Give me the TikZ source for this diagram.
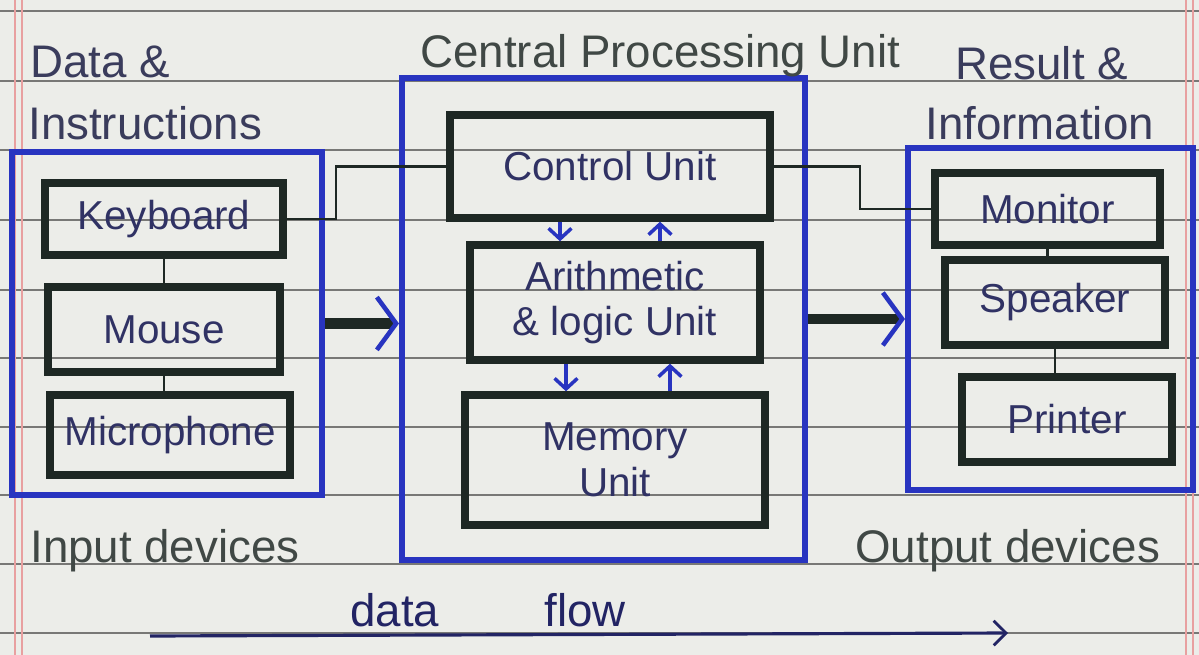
\documentclass[tikz,border=0pt]{standalone}
\usepackage{fontspec}
\setmainfont{Liberation Sans}
\usetikzlibrary{arrows.meta,fit}

\definecolor{paper}{RGB}{236,237,233}
\definecolor{rule}{RGB}{120,120,118}
\definecolor{margin}{RGB}{232,160,160}
\definecolor{penblue}{RGB}{40,52,192}
\definecolor{ink}{RGB}{30,40,36}
\definecolor{pencil}{RGB}{58,60,92}
\definecolor{boxtext}{RGB}{48,50,100}
\definecolor{flowink}{RGB}{34,36,100}

\begin{document}
\begin{tikzpicture}[
  x=0.02cm, y=-0.02cm,
  paperrule/.style={draw=rule, line width=0.6pt},
  marginrule/.style={draw=margin, line width=1pt},
  group/.style={draw=penblue, line width=3.4pt, inner sep=0pt},
  unit/.style={draw=ink, line width=4.2pt, inner sep=0pt},
  unitlabel/.style={text=boxtext, align=center, inner sep=0pt,
    font=\fontsize{23}{26}\selectfont},
  wire/.style={draw=ink, line width=1.3pt},
  smallarrow/.style={draw=penblue, line width=2pt,
    -{Straight Barb[length=6pt,width=13pt,line width=2pt]}},
  bigarrow/.style={draw=ink, line width=6pt,
    -{Straight Barb[length=11pt,width=30pt,line width=2.6pt,color=penblue]}},
  flowarrow/.style={draw=flowink, line width=1.8pt,
    -{Straight Barb[length=7pt,width=14pt,line width=1.6pt]}},
  caption/.style={text=pencil, inner sep=0pt, anchor=base west,
    font=\fontsize{26}{30}\selectfont},
]
% sheet of lined paper
\useasboundingbox (0,0) rectangle (1199,655);
\fill[paper] (0,0) rectangle (1199,655);
\foreach \ry in {11,81,150,220,290,358,427,495,564,633}
  \draw[paperrule] (0,\ry) -- (1199,\ry);
\draw[marginrule] (15,0) -- (15,655);
\draw[marginrule] (22,0) -- (22,655);
\draw[marginrule] (1186,0) -- (1186,655);
\draw[marginrule] (1193,0) -- (1193,655);

% the three groups
\node[group, fit={(12,152) (322,495)}] (inbox) {};
\node[group, fit={(402,78) (805,560)}] (cpu) {};
\node[group, fit={(908,148) (1193,490)}] (outbox) {};

% input devices
\node[unit, fit={(45,183) (283,255)}] (kb) {};
\node[unit, fit={(48,287) (280,372)}] (ms) {};
\node[unit, fit={(50,395) (290,475)}] (mic) {};
\node[unitlabel] (kbtxt) at (kb) {Keyboard};
\node[unitlabel] (mstxt) at (ms) {Mouse};
\node[unitlabel] (mictxt) at (mic) {Microphone};

% processing units
\node[unit, fit={(450,115) (770,218)}] (cu) {};
\node[unit, fit={(470,245) (760,360)}] (alu) {};
\node[unit, fit={(465,395) (765,525)}] (mem) {};
\node[unitlabel] (cutxt) at (cu) {Control Unit};
\node[unitlabel] (alutxt) at (alu) {Arithmetic\\\& logic Unit};
\node[unitlabel] (memtxt) at (mem) {Memory\\Unit};

% output devices
\node[unit, fit={(935,173) (1160,245)}] (mon) {};
\node[unit, fit={(945,260) (1165,345)}] (spk) {};
\node[unit, fit={(962,377) (1172,462)}] (prn) {};
\node[unitlabel] (montxt) at (mon) {Monitor};
\node[unitlabel] (spktxt) at (spk) {Speaker};
\node[unitlabel] (prntxt) at (prn) {Printer};

% links inside the device groups
\draw[wire] (kb.south) -- (kb.south |- ms.north);
\draw[wire] (ms.south) -- (ms.south |- mic.north);
\draw[wire] (mon.south) -- (mon.south |- spk.north);
\draw[wire] (spk.south) -- (spk.south |- prn.north);

% control lines to the control unit
\coordinate (kbturn) at (336,0);
\coordinate (monturn) at (860,0);
\draw[wire] (kb.east) -| (kbturn |- cu.west) -- (cu.west);
\draw[wire] (cu.east) -| (monturn |- mon.west) -- (mon.west);

% exchanges between the units
\coordinate (downa) at (560,0);
\coordinate (upa) at (660,0);
\coordinate (downb) at (566,0);
\coordinate (upb) at (670,0);
\draw[smallarrow] (downa |- cu.south) -- (downa |- alu.north);
\draw[smallarrow] (upa |- alu.north) -- (upa |- cu.south);
\draw[smallarrow] (downb |- alu.south) -- (downb |- mem.north);
\draw[smallarrow] (upb |- mem.north) -- (upb |- alu.south);

% flow between the groups
\draw[bigarrow] (inbox.east) -- (inbox.east -| cpu.west);
\draw[bigarrow] (cpu.east) -- (cpu.east -| outbox.west);

% captions
\node[caption] (datains) at (30,78) {Data \&};
\node[caption] (instr) at (28,140) {Instructions};
\node[caption, text=ink!85] (cputitle) at (420,68) {Central Processing Unit};
\node[caption] (result) at (955,80) {Result \&};
\node[caption] (info) at (925,140) {Information};
\node[caption, text=ink!85] (indev) at (30,562) {Input devices};
\node[caption, text=ink!85] (outdev) at (855,562) {Output devices};

% overall direction of data
\node[caption, text=flowink] (flowtxt) at (350,626) {data\hspace{60pt}flow};
\coordinate (flowstart) at (150,636);
\coordinate (flowend) at (1008,633);
\draw[flowarrow] (flowstart) -- (flowend);
\end{tikzpicture}
\end{document}
